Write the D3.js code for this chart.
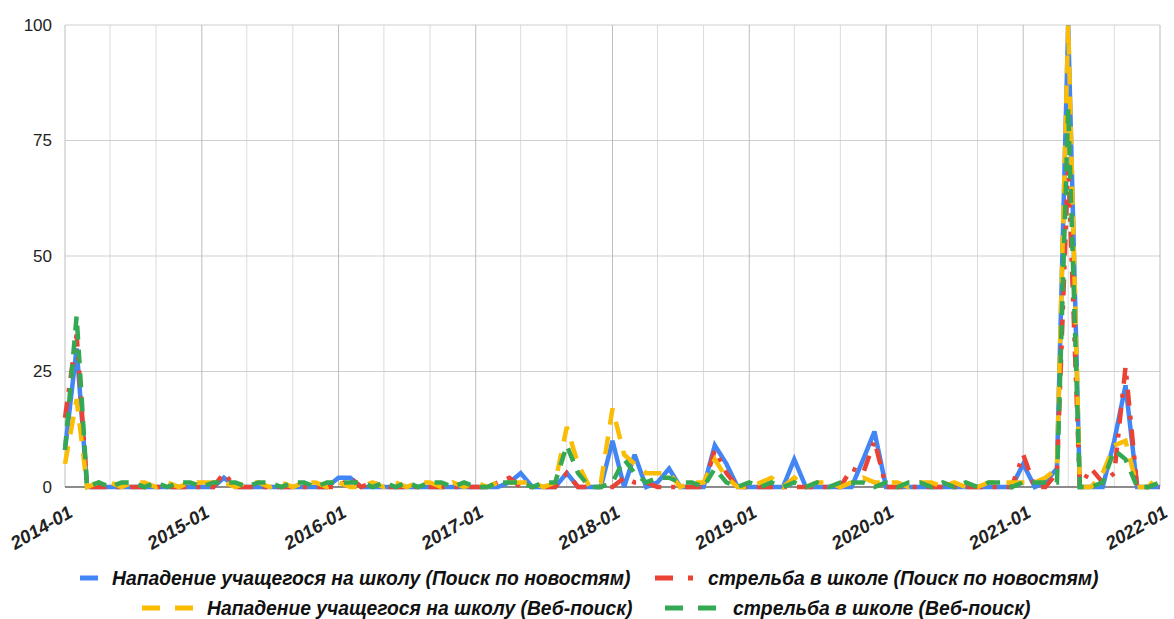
<!DOCTYPE html>
<html><head><meta charset="utf-8">
<script src="https://cdn.jsdelivr.net/npm/d3@7"></script>
<style>
html,body{margin:0;padding:0;background:#fff;}
svg{display:block;font-family:"Liberation Sans",Arial,sans-serif;}
</style></head>
<body>
<svg id="chart" width="1174" height="619"></svg>
<script>
// ---- data ----
const startMonth = new Date(2014, 0, 1);
const endMonth = new Date(2022, 1, 1);
const months = d3.timeMonth.range(startMonth, endMonth); // 2014-01 .. 2022-01 (97)

const xTickLabels = ["2014-01","2015-01","2016-01","2017-01","2018-01","2019-01","2020-01","2021-01","2022-01"];
const yTicks = [0, 25, 50, 75, 100];

const seriesNames = [
  "Нападение учащегося на школу (Поиск по новостям)",
  "стрельба в школе (Поиск по новостям)",
  "Нападение учащегося на школу (Веб-поиск)",
  "стрельба в школе (Веб-поиск)"
];

const attackNews = [8,30,0,0,0,0,0,0,0,0,0,0,
  0,0,2,0,0,0,0,0,0,0,0,0,
  2,2,0,0,0,0,0,0,0,0,0,0,
  0,0,0,1,3,0,0,0,3,0,0,0,
  10,0,7,0,1,4,0,0,0,9,5,0,
  0,0,0,0,6,0,0,0,0,0,6,12,
  0,0,0,0,0,0,0,0,0,0,0,0,
  5,0,1,4,100,0,0,0,10,22,0,0,
  0];
const shootingNews = [15,33,0,0,0,0,0,0,0,0,0,0,
  0,0,3,0,0,0,0,0,0,0,0,0,
  0,2,0,1,0,0,0,0,0,0,0,0,
  0,0,1,2,0,0,0,0,3,0,0,0,
  0,2,1,1,0,0,0,0,0,8,3,0,
  0,0,0,0,0,0,0,0,0,4,3,10,
  0,0,0,0,0,0,0,0,0,0,0,0,
  7,0,0,3,70,0,4,1,3,26,0,0,
  0];
const attackWeb = [5,19,0,1,1,0,1,1,0,1,0,1,
  1,1,1,0,1,1,0,1,0,1,1,0,
  1,0,0,1,0,1,0,1,1,0,1,0,
  1,0,1,1,1,1,0,1,13,5,0,1,
  17,7,5,3,3,3,0,1,1,6,2,0,
  0,1,2,0,2,0,1,1,0,1,2,1,
  1,1,0,1,1,0,1,0,0,1,1,1,
  1,1,2,4,100,0,0,3,9,10,0,0,
  3];
const shootingWeb = [8,37,0,1,0,1,1,0,1,0,1,1,
  0,1,1,1,0,1,1,0,1,1,0,1,
  1,1,1,0,1,0,1,0,1,1,0,1,
  0,0,1,1,1,0,1,1,9,3,0,0,
  1,6,3,1,2,2,1,1,0,4,1,0,
  1,0,1,0,1,0,1,0,1,1,1,0,
  1,0,1,1,0,1,0,1,0,1,1,0,
  1,1,1,1,82,0,0,1,8,6,0,0,
  1];

const seriesValues = [attackNews, shootingNews, attackWeb, shootingWeb];
const seriesColors = ["#4285f4", "#ea4335", "#fbbc04", "#34a853"];
const seriesDash = [null, "16,10,4,10", "18,12", "14,10"];

// ---- layout ----
const W = 1174, H = 619;
const m = {left: 65, right: 14, top: 25, bottom: 132};
const svg = d3.select("#chart");

const x = d3.scaleTime().domain([months[0], months[months.length-1]]).range([m.left, W - m.right]);
const y = d3.scaleLinear().domain([0, 100]).range([H - m.bottom, m.top]);

const grid = svg.append("g");
// minor vertical gridlines every 4 months
const minorDates = d3.timeMonth.every(4).range(months[0], d3.timeMonth.offset(months[months.length-1], 1));
grid.selectAll("line.minor").data(minorDates.filter(d => d.getMonth() !== 0)).join("line")
  .attr("x1", d => x(d)).attr("x2", d => x(d))
  .attr("y1", y(0)).attr("y2", y(100))
  .attr("stroke", "#dcdcdc").attr("stroke-width", 1);
// horizontal gridlines
grid.selectAll("line.h").data(yTicks).join("line")
  .attr("x1", m.left).attr("x2", W - m.right)
  .attr("y1", d => y(d)).attr("y2", d => y(d))
  .attr("stroke", "#cfcfcf").attr("stroke-width", 1);
// yearly gridlines
const parseM = d3.timeParse("%Y-%m");
grid.selectAll("line.year").data(xTickLabels).join("line")
  .attr("x1", d => x(parseM(d))).attr("x2", d => x(parseM(d)))
  .attr("y1", y(0)).attr("y2", y(100))
  .attr("stroke", "#bdbdbd").attr("stroke-width", 1);

// baseline
svg.append("line").attr("x1", m.left).attr("x2", W - m.right)
  .attr("y1", y(0)).attr("y2", y(0)).attr("stroke", "#333").attr("stroke-width", 1.2);

// y axis labels
const yAxis = d3.axisLeft(y).tickValues(yTicks).tickSize(0).tickPadding(13);
const yg = svg.append("g").attr("transform", `translate(${m.left},0)`).call(yAxis);
yg.select(".domain").remove();
yg.selectAll("text").attr("font-size", 17).attr("fill", "#222")
  .attr("font-family", "Liberation Sans, Arial, sans-serif");

// x axis labels
const xg = svg.append("g");
xg.selectAll("text").data(xTickLabels).join("text")
  .attr("transform", d => `translate(${x(parseM(d)) + 9},${y(0) + 29}) rotate(-30)`)
  .attr("text-anchor", "end")
  .attr("font-size", 18.5).attr("font-weight", "bold").attr("font-style", "italic")
  .attr("fill", "#222")
  .text(d => d);

// lines
const line = d3.line().x((d, i) => x(months[i])).y(d => y(d));
const lg = svg.append("g");
seriesValues.forEach((vals, k) => {
  lg.append("path").datum(vals)
    .attr("d", line)
    .attr("fill", "none")
    .attr("stroke", seriesColors[k])
    .attr("stroke-width", 4.5)
    .attr("stroke-dasharray", seriesDash[k])
    .attr("stroke-linejoin", "miter")
    .attr("stroke-miterlimit", 3);
});

// legend
const legendItems = [
  {k: 0, mx: 80, tx: 112, y: 578},
  {k: 1, mx: 655, tx: 708, y: 578},
  {k: 2, mx: 142, tx: 207, y: 608},
  {k: 3, mx: 665, tx: 733, y: 608}
];
const legendMarkerDash = [null, "18,15,5,100", "18,15,18,100", "18,15,18,100"];
const legendMarkerLen = [18, 38, 51, 51];
const leg = svg.append("g");
legendItems.forEach(it => {
  leg.append("line").attr("x1", it.mx).attr("x2", it.mx + legendMarkerLen[it.k])
    .attr("y1", it.y).attr("y2", it.y)
    .attr("stroke", seriesColors[it.k]).attr("stroke-width", 5)
    .attr("stroke-dasharray", legendMarkerDash[it.k]);
  leg.append("text").attr("x", it.tx).attr("y", it.y).attr("dy", "0.35em")
    .attr("font-size", 19.3).attr("font-weight", "bold").attr("font-style", "italic")
    .attr("fill", "#111")
    .text(seriesNames[it.k]);
});
</script>
</body></html>
